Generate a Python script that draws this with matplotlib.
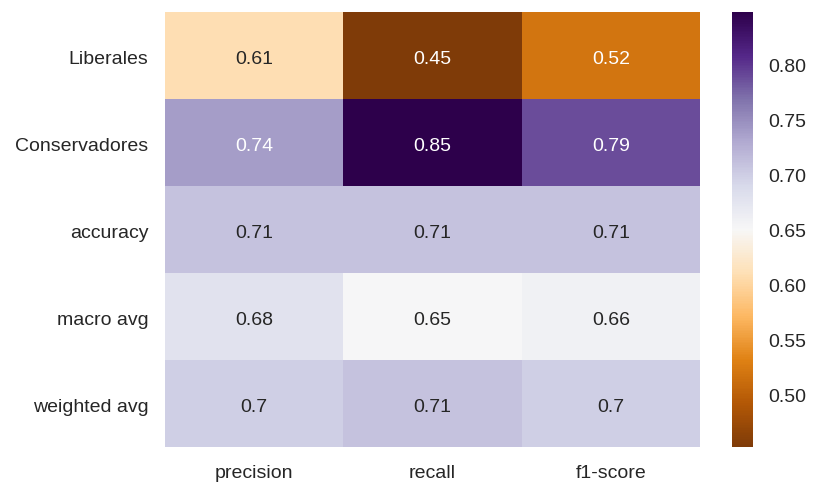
import matplotlib
matplotlib.use("Agg")
import matplotlib.pyplot as plt
import matplotlib.transforms as mtrans
import seaborn as sns
import pandas as pd

rows = ["Liberales", "Conservadores", "accuracy", "macro avg", "weighted avg"]
cols = ["precision", "recall", "f1-score"]
precision = [0.61, 0.74, 0.71, 0.68, 0.70]
recall = [0.4535, 0.849, 0.71, 0.652, 0.71]
f1 = [0.52, 0.79, 0.71, 0.66, 0.70]

df = pd.DataFrame({"precision": precision, "recall": recall, "f1-score": f1}, index=rows)[cols]

plt.rcParams['font.family'] = ['Liberation Sans', 'DejaVu Sans']
plt.rcParams['font.size'] = 14

fig = plt.figure(figsize=(8.2, 4.96), dpi=100)
ax = fig.add_axes([165/820, 1-447/496, 535/820, 435/496])
cax = fig.add_axes([732/820, 1-447/496, 21/820, 435/496])
sns.heatmap(df, annot=True, cmap="PuOr", ax=ax, cbar_ax=cax,
            annot_kws={"fontsize": 14})
ax.tick_params(length=0, labelsize=14, colors="#262626")
ax.tick_params(axis="x", pad=13)
ax.tick_params(axis="y", pad=12)
ax.set_yticklabels(rows, rotation=0)
ax.set_xticklabels(cols, rotation=0)
shift = mtrans.ScaledTranslation(0, -4/100, fig.dpi_scale_trans)
for lab in ax.get_yticklabels():
    lab.set_transform(lab.get_transform() + shift)
for t in ax.texts:
    t.set_transform(t.get_transform() + shift)
cax.tick_params(length=0, labelsize=14, colors="#262626", pad=11)
for s in cax.spines.values():
    s.set_visible(False)
fig.savefig("out.png", dpi=100)
